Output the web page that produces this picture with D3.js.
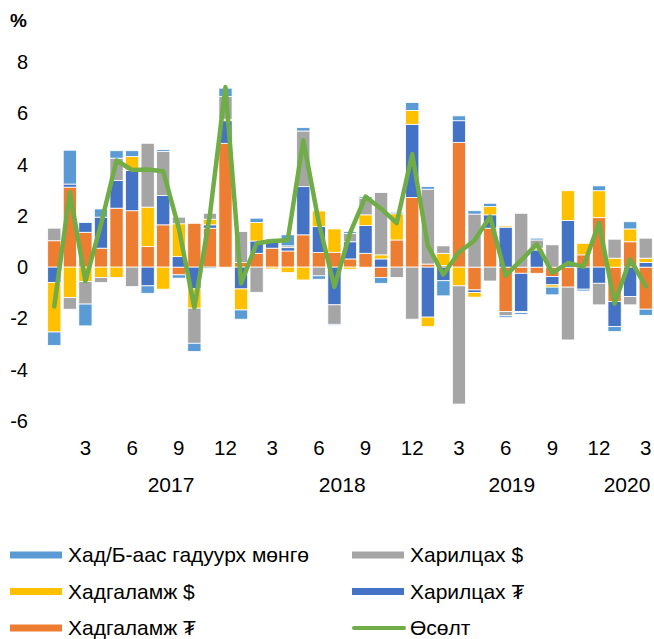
<!DOCTYPE html>
<html>
<head>
<meta charset="utf-8">
<script src="https://cdn.jsdelivr.net/npm/d3@7"></script>
<style>
  body { margin: 0; background: #fff; }
  text { font-family: "Liberation Sans", Arial, sans-serif; fill: #000; }
</style>
</head>
<body>
<div id="viz"></div>
<script>
// Сар (2017.01 - 2020.03)
let monthNo = [1,2,3,4,5,6,7,8,9,10,11,12, 1,2,3,4,5,6,7,8,9,10,11,12, 1,2,3,4,5,6,7,8,9,10,11,12, 1,2,3];
let tickMonths = [3, 6, 9, 12];
let yearLabels = ['2017', '2018', '2019', '2020'];
// байрлал (сарын индексээр)
let yearLabelIdx = [7.5, 18.5, 29.4, 36.8];
let yTicks = [8, 6, 4, 2, 0, -2, -4, -6];

// Цувааны утгууд
let hadBaasGadna = [-0.52,1.32,-0.85,0.32,0.29,0.23,-0.29,0.07,-0.13,-0.32,-0.05,0.33,
                    -0.36,0.17,0,0.43,0.13,-0.13,-0.04,0.07,0.06,-0.23,0.06,0.31,
                    0.10,-0.59,0.19,0.13,0.13,-0.07,-0.07,0.07,-0.30,0,-0.07,0.19,
                    -0.19,0.28,-0.24];
let harilcahUsd = [0.49,-0.45,-0.88,-0.20,0.87,-0.76,2.49,1.72,0.26,-1.37,0.23,0.88,
                   1.21,-0.98,0,0.07,2.17,-0.34,-0.76,0.33,0.65,2.43,-0.40,-2.03,
                   2.92,0.29,-4.61,2.07,-0.54,-0.17,2.10,0.32,0.87,-2.06,0,-0.84,
                   0.74,-0.32,0.78];
let hadgalamjUsd = [-1.93,-1.19,-0.56,-0.40,-0.40,0.54,1.54,-0.86,1.28,-0.75,0.22,0.06,
                    -0.82,0.72,-0.07,-0.21,-0.50,0.61,0.91,-0.08,0.42,0.16,1.02,0.54,
                    -0.37,0.48,-0.73,-0.18,0.32,0.05,-0.04,0.07,-0.09,1.16,0.45,1.05,
                    0.35,0.50,0.17];
let harilcahMnt = [-0.60,0.12,0.38,1.21,1.08,1.57,-0.73,1.14,0.41,-0.85,0.13,0.88,
                   -0.85,0.48,0.35,0.13,1.88,1.01,-1.47,0.67,1.08,0.32,0,2.85,
                   -1.95,-0.53,0.85,-0.10,0.52,1.56,-1.49,0.67,-0.32,1.82,-0.86,-0.63,
                   -0.98,-1.15,0.18];
let hadgalamjMnt = [1.03,3.12,1.36,0.74,2.30,2.20,0.80,1.65,-0.30,1.71,1.52,4.83,
                    0.18,0.54,0.74,0.63,1.26,0.57,0.58,0.32,0.54,-0.40,1.06,2.72,
                    0.12,0.06,4.86,-0.89,1.52,-1.73,-0.24,-0.24,-0.37,-0.78,0.48,1.93,
                    -1.34,0.99,-1.64];
let osolt = [-1.53,2.92,-0.55,1.67,4.16,3.79,3.81,3.74,1.52,-1.58,2.05,7.02,
             -0.64,0.93,1.02,1.05,4.95,1.72,-0.77,1.33,2.75,2.28,1.72,4.41,
             0.84,-0.29,0.58,1.04,1.97,-0.33,0.27,0.90,-0.22,0.16,0.02,1.73,
             -1.42,0.31,-0.75];

// Цуваа: доороос дээш овоолох дараалал
let seriesNames = ['Хадгаламж ₮', 'Харилцах ₮', 'Хадгаламж $', 'Харилцах $', 'Хад/Б-аас гадуурх мөнгө'];
let seriesData = [hadgalamjMnt, harilcahMnt, hadgalamjUsd, harilcahUsd, hadBaasGadna];
let seriesColors = ['#ED7D31', '#4472C4', '#FFC000', '#A5A5A5', '#5B9BD5'];
let lineName = 'Өсөлт';
let lineColor = '#70AD47';

// Тайлбарын дараалал
let legendItems = [
    {name: 'Хад/Б-аас гадуурх мөнгө', color: '#5B9BD5', type: 'bar'},
    {name: 'Харилцах $', color: '#A5A5A5', type: 'bar'},
    {name: 'Хадгаламж $', color: '#FFC000', type: 'bar'},
    {name: 'Харилцах ₮', color: '#4472C4', type: 'bar'},
    {name: 'Хадгаламж ₮', color: '#ED7D31', type: 'bar'},
    {name: lineName, color: lineColor, type: 'line'}
];

let w = 654;
let h = 639;

let svg = d3.select('#viz')
    .append('svg')
        .attr('width', w)
        .attr('height', h);

// Хүснэгт
let rows = monthNo.map(function(m, i) {
    let r = {i: i};
    seriesNames.forEach(function(n, k) { r[n] = seriesData[k][i]; });
    return r;
});

let stack = d3.stack()
    .keys(seriesNames)
    .offset(d3.stackOffsetDiverging);
let stacked = stack(rows);

// Тэнхлэгүүд
let x = d3.scaleBand()
    .domain(d3.range(monthNo.length))
    .range([46.5, 653.5])
    .paddingInner(0.15)
    .paddingOuter(0.075);

let y = d3.scaleLinear()
    .domain([-6, 8])
    .range([421, 62]);

let xc = function(i) { return x(i) + x.bandwidth() / 2; };
let idxToX = d3.scaleLinear()
    .domain([0, 1])
    .range([xc(0), xc(1)]);

// Y тэнхлэгийн бичиг
svg.append('text')
    .attr('x', 10)
    .attr('y', 27)
    .style('font-size', '19px')
    .style('font-weight', 'bold')
    .text('%');

svg.append('g')
    .selectAll('text')
    .data(yTicks)
    .enter()
    .append('text')
        .attr('x', 28)
        .attr('y', d => y(d))
        .attr('dy', '0.35em')
        .attr('text-anchor', 'end')
        .style('font-size', '20px')
        .text(d => d);

// Баганууд
svg.append('g')
    .selectAll('g')
    .data(stacked)
    .enter()
    .append('g')
        .attr('fill', (d, k) => seriesColors[k])
    .selectAll('rect')
    .data(d => d)
    .enter()
    .append('rect')
        .attr('x', (d, i) => x(i))
        .attr('width', x.bandwidth())
        .attr('y', d => y(Math.max(d[0], d[1])))
        .attr('height', d => Math.abs(y(d[0]) - y(d[1])))
        .attr('stroke', '#fff')
        .attr('stroke-width', 0.8);

// Өсөлтийн шугам
let line = d3.line()
    .x((d, i) => xc(i))
    .y(d => y(d));

svg.append('path')
    .datum(osolt)
    .attr('fill', 'none')
    .attr('stroke', lineColor)
    .attr('stroke-width', 4.5)
    .attr('stroke-linejoin', 'round')
    .attr('stroke-linecap', 'round')
    .attr('d', line);

// X тэнхлэгийн бичиг: сар
svg.append('g')
    .selectAll('text')
    .data(monthNo.map((m, i) => ({m: m, i: i})).filter(d => tickMonths.includes(d.m)))
    .enter()
    .append('text')
        .attr('x', d => xc(d.i))
        .attr('y', 455)
        .attr('text-anchor', 'middle')
        .style('font-size', '20.5px')
        .text(d => d.m);

// X тэнхлэгийн бичиг: он
svg.append('g')
    .selectAll('text')
    .data(yearLabels)
    .enter()
    .append('text')
        .attr('x', (d, k) => idxToX(yearLabelIdx[k]))
        .attr('y', 492)
        .attr('text-anchor', 'middle')
        .style('font-size', '21px')
        .text(d => d);

// Тайлбар
let legend = svg.append('g');
let lg = legend.selectAll('g')
    .data(legendItems)
    .enter()
    .append('g')
        .attr('transform', (d, k) => `translate(${k % 2 == 0 ? 10 : 352},${555 + Math.floor(k / 2) * 36.5})`);

lg.filter(d => d.type == 'bar')
    .append('rect')
        .attr('x', 0)
        .attr('y', -3.5)
        .attr('width', 52)
        .attr('height', 7)
        .attr('fill', d => d.color);

lg.filter(d => d.type == 'line')
    .append('line')
        .attr('x1', 2)
        .attr('x2', 52)
        .attr('y1', 0)
        .attr('y2', 0)
        .attr('stroke', d => d.color)
        .attr('stroke-width', 4)
        .attr('stroke-linecap', 'round');

lg.append('text')
    .attr('x', 58)
    .attr('y', 0)
    .attr('dy', '0.35em')
    .style('font-size', '21px')
    .text(d => d.name);
</script>
</body>
</html>
